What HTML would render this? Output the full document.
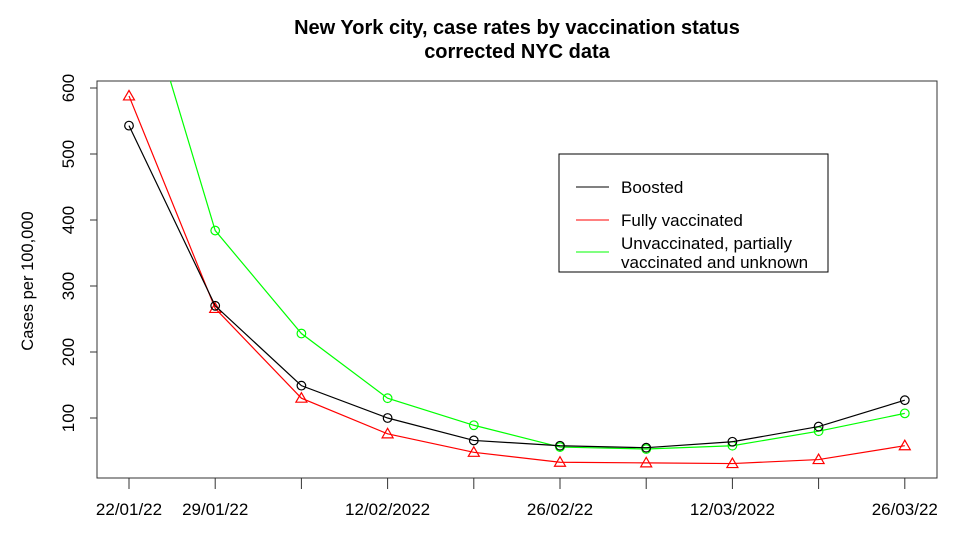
<!DOCTYPE html>
<html><head><meta charset="utf-8"><style>
body{margin:0;background:#fff}
svg{display:block;font-family:"Liberation Sans",Arial,sans-serif}
</style></head><body>
<svg id="chart" width="977" height="539">
<text x="517" y="34" text-anchor="middle" font-size="20" font-weight="bold">New York city, case rates by vaccination status</text>
<text x="517" y="58" text-anchor="middle" font-size="20" font-weight="bold">corrected NYC data</text>
<defs><clipPath id="clip"><rect x="97" y="81" width="840" height="397"/></clipPath></defs>
<rect x="97" y="81" width="840" height="397" fill="none" stroke="#333" stroke-width="1"/>
<text transform="translate(33,281) rotate(-90)" text-anchor="middle" font-size="16.5">Cases per 100,000</text>
<g id="axes"></g>
<g id="series" clip-path="url(#clip)"></g>
<g>
<rect x="559" y="154" width="269" height="118" fill="#fff" stroke="#000"/>
<line x1="576" y1="187" x2="609" y2="187" stroke="#000"/>
<text x="621" y="193" font-size="17">Boosted</text>
<line x1="576" y1="220" x2="609" y2="220" stroke="#f00"/>
<text x="621" y="226" font-size="17">Fully vaccinated</text>
<line x1="576" y1="252" x2="609" y2="252" stroke="#0f0"/>
<text x="621" y="249" font-size="17">Unvaccinated, partially</text>
<text x="621" y="268" font-size="17">vaccinated and unknown</text>
</g>
</svg>
<script>
const categories=["22/01/22","29/01/22","05/02/22","12/02/2022","19/02/22","26/02/22","05/03/22","12/03/2022","19/03/22","26/03/22"];
const shownLabels=[true,true,false,true,false,true,false,true,false,true];
const boosted=[543,270,149,100,66,58,55,64,87,127];
const fully=[588,266,130,76,48,33,32,31,37,58];
const unvax=[820,384,228,130,89,56,53,58,80,107];
const yTicks=[100,200,300,400,500,600];
const NS="http://www.w3.org/2000/svg";
const X=i=>129+i*86.2;
const Y=v=>484-v*0.66;
function mk(tag,attrs,parent){const e=document.createElementNS(NS,tag);for(const k in attrs)e.setAttribute(k,attrs[k]);parent.appendChild(e);return e;}
const axes=document.getElementById('axes');
const ax=mk('line',{x1:X(0),y1:478,x2:X(9),y2:478,stroke:'#333'},axes);


categories.forEach((c,i)=>{
 const t=mk('line',{x1:X(i),y1:478,x2:X(i),y2:489,stroke:'#333'},axes);
 
 
 if(shownLabels[i]){
  const l=mk('text',{x:X(i),y:515,'text-anchor':'middle','font-size':17},axes);
  l.textContent=c;
  
  
 }
});
const ay=mk('line',{x1:97,y1:Y(100),x2:97,y2:Y(600),stroke:'#333'},axes);


yTicks.forEach(v=>{
 const t=mk('line',{x1:90,y1:Y(v),x2:97,y2:Y(v),stroke:'#333'},axes);
 
 
 const l=mk('text',{transform:`translate(74,${Y(v)}) rotate(-90)`,'text-anchor':'middle','font-size':17},axes);
 l.textContent=v;
 
 
});
const sg=document.getElementById('series');
function series(vals,color,shape,name){
 const pl=mk('polyline',{points:vals.map((v,i)=>X(i)+','+Y(v)).join(' '),fill:'none',stroke:color,'stroke-width':1.2},sg);
 
 
 vals.forEach((v,i)=>{
  const x=X(i),y=Y(v);let m;
  if(shape==='circle')m=mk('circle',{cx:x,cy:y,r:4.3,fill:'none',stroke:color,'stroke-width':1.2},sg);
  else m=mk('polygon',{points:`${x},${y-5.5} ${x-5.5},${y+4} ${x+5.5},${y+4}`,fill:'none',stroke:color,'stroke-width':1.2},sg);
  
  
 });
}
series(unvax,'#0f0','circle','unvaccinated');
series(fully,'#f00','triangle','fully-vaccinated');
series(boosted,'#000','circle','boosted');
</script>
</body></html>
